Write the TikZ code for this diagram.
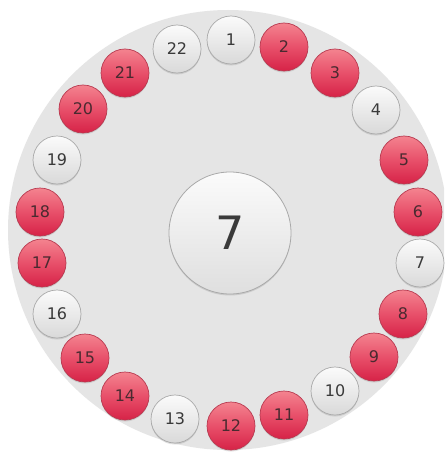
\documentclass[tikz,border=0pt]{standalone}
\usepackage{fontspec}
\setmainfont{DejaVu Sans}
\usetikzlibrary{shadows}
\definecolor{bggray}{HTML}{E5E5E5}
\definecolor{redtop}{HTML}{F4838F}
\definecolor{redmid}{HTML}{E8506A}
\definecolor{redbot}{HTML}{D62247}
\definecolor{redline}{HTML}{B83A50}
\definecolor{whitetop}{HTML}{FBFBFB}
\definecolor{whitebot}{HTML}{D9D9D9}
\definecolor{whiteline}{HTML}{A9A9A9}
\definecolor{textgray}{HTML}{3A3A3A}
\definecolor{redtext}{HTML}{4A2A30}
\tikzset{
  ball/.style={circle, minimum size=48pt, inner sep=0pt, line width=0.7pt,
    font=\fontsize{16}{16}\selectfont, text=textgray,
    drop shadow={shadow xshift=0pt, shadow yshift=-1.5pt, opacity=0.25}},
  redball/.style={ball, draw=redline, top color=redtop, bottom color=redbot, middle color=redmid, text=redtext},
  whiteball/.style={ball, draw=whiteline, top color=whitetop, bottom color=whitebot},
  bigball/.style={circle, minimum size=122pt, inner sep=0pt, line width=0.8pt,
    draw=whiteline, top color=whitetop, bottom color=whitebot!85!white,
    font=\fontsize{46}{46}\selectfont, text=textgray,
    drop shadow={shadow xshift=0pt, shadow yshift=-1.5pt, opacity=0.25}}
}
\begin{document}
\begin{tikzpicture}[x=1pt,y=-1pt]
\useasboundingbox (0,0) rectangle (444,452);
\fill[white] (0,0) rectangle (444,452);
\begin{scope}
\clip (0,0) rectangle (444,452);
\fill[bggray] (228,230) circle[radius=220];
\end{scope}
\node[bigball] (center) at (230,233) {7};
\foreach \n/\x/\y/\s in {
  1/231/40/whiteball, 2/284/47/redball, 3/335/73/redball, 4/376/110/whiteball,
  5/404/160/redball, 6/418/212/redball, 7/420/263/whiteball, 8/403/314/redball,
  9/374/357/redball, 10/335/391/whiteball, 11/284/415/redball, 12/231/426/redball,
  13/175/419/whiteball, 14/125/396/redball, 15/85/358/redball, 16/57/314/whiteball,
  17/42/263/redball, 18/40/212/redball, 19/57/160/whiteball, 20/83/109/redball,
  21/125/73/redball, 22/177/49/whiteball}
  \node[\s] (n\n) at (\x,\y) {\n};
\end{tikzpicture}
\end{document}
